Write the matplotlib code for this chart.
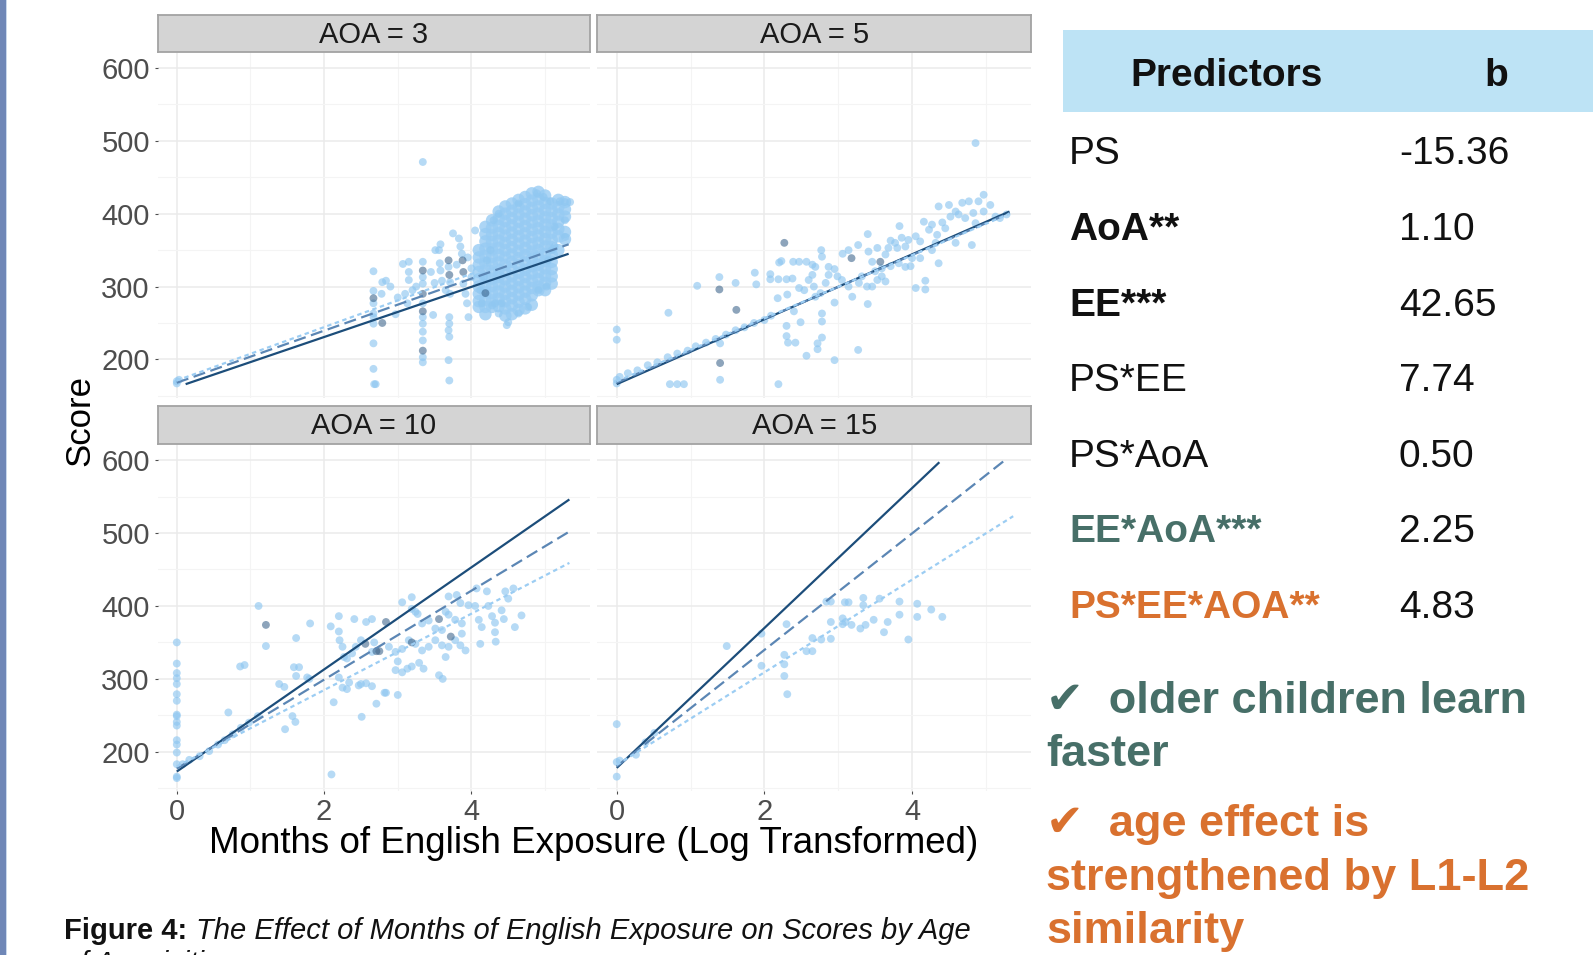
import matplotlib
matplotlib.use("Agg")
import matplotlib.pyplot as plt
from matplotlib.patches import Rectangle
from matplotlib.ticker import FixedLocator

plt.rcParams['font.family'] = ['Liberation Sans', 'DejaVu Sans']

# ---------------- data ----------------
panel_titles = ["AOA = 3", "AOA = 5", "AOA = 10", "AOA = 15"]

# AOA = 3 -- scattered points (light)
aoa3_x = [0, 0, 0.03,
          2.67, 2.67, 2.67, 2.67, 2.67, 2.67, 2.67, 2.67, 2.68, 2.70,
          2.79, 2.84, 2.78, 2.97,
          3.07, 3.15, 3.15, 3.15, 3.20, 3.10, 3.13,
          3.34, 3.34, 3.34, 3.34, 3.34, 3.34, 3.34, 3.34, 3.34, 3.34,
          3.48, 3.34,
          3.56, 3.57, 3.58, 3.60, 3.65, 3.69, 3.71, 3.71, 3.70, 3.70, 3.69, 3.70, 3.69, 3.70, 3.51, 3.58, 3.75,
          3.83, 3.85, 3.87, 3.89, 3.92, 3.94, 3.96,
          4.00, 4.05, 4.30, 4.37, 4.12, 4.14, 4.17, 4.21, 4.26,
          4.37, 4.48, 4.50, 4.64, 4.77, 4.91, 5.02, 4.64, 4.89, 4.98, 5.07, 5.20, 5.27, 5.34,
          5.27, 5.27, 5.13, 5.09, 5.04, 5.13, 4.28, 4.32, 4.41,
          2.90, 3.00, 3.25, 3.45, 3.50, 3.80, 3.95, 4.00]
aoa3_y = [167, 170, 172,
          321, 294, 277, 263, 258, 249, 222, 187, 166, 166,
          306, 308, 290, 262,
          331, 334, 320, 309, 295, 290, 277,
          334, 313, 304, 277, 258, 249, 238, 226, 203, 196,
          261, 471,
          350, 332, 322, 308, 295, 327, 306, 290, 258, 249, 240, 231, 199, 171, 350, 358, 373,
          366, 355, 345, 304, 290, 277, 258,
          313, 377, 391, 400, 295, 277, 313, 336, 350,
          263, 247, 251, 263, 272, 295, 300, 414, 428, 423, 417, 417, 416, 416,
          391, 368, 355, 350, 336, 382, 274, 277, 277,
          300, 285, 300, 320, 305, 330, 340, 325]

# AOA = 3 -- dense cloud of points (light)
aoa3_cloud_x = [4.10] * 9 + [4.19] * 13 + [4.28] * 13 + [4.37] * 14 + [4.46] * 16 + [4.55] * 16 + \
               [4.64] * 16 + [4.73] * 16 + [4.82] * 16 + [4.91] * 15 + [5.00] * 14 + [5.09] * 12 + \
               [5.18] * 7 + [5.27] * 5
aoa3_cloud_y = [350, 340, 330, 320, 310, 300, 290, 280, 272,
                382, 372, 362, 352, 342, 332, 322, 312, 302, 292, 282, 272, 262,
                391, 381, 371, 361, 351, 341, 331, 321, 311, 301, 291, 281, 272,
                403, 393, 383, 373, 363, 353, 343, 333, 323, 313, 303, 293, 283, 273,
                410, 400, 390, 380, 370, 360, 350, 340, 330, 320, 310, 300, 290, 280, 270, 260,
                414, 404, 394, 384, 374, 364, 354, 344, 334, 324, 314, 304, 294, 284, 274, 262,
                419, 409, 399, 389, 379, 369, 359, 349, 339, 329, 319, 309, 299, 289, 279, 268,
                423, 413, 403, 393, 383, 373, 363, 353, 343, 333, 323, 313, 303, 293, 283, 270,
                428, 418, 408, 398, 388, 378, 368, 358, 348, 338, 328, 318, 308, 298, 288, 275,
                430, 420, 410, 400, 390, 380, 370, 360, 350, 340, 330, 320, 310, 300, 295,
                425, 415, 405, 395, 385, 375, 365, 355, 345, 335, 325, 315, 305, 295,
                414, 404, 394, 384, 374, 364, 354, 344, 334, 324, 314, 304,
                419, 409, 399, 389, 379, 369, 350,
                416, 406, 396, 375, 365]

aoa3_dark_x = [2.67, 2.79, 3.34, 3.34, 3.34, 3.34, 3.70, 3.69, 3.88, 3.89, 4.19]
aoa3_dark_y = [284, 250, 322, 290, 266, 212, 316, 336, 336, 320, 291]

# AOA = 5
aoa5_x = [0, 0, 0, 0, 0.04,
          0.15, 0.28, 0.42, 0.55, 0.69, 0.82, 0.96, 1.07, 1.21, 1.34, 1.48, 1.61, 1.73, 1.86, 2.00, 2.09,
          0.70, 0.72, 0.82, 0.91, 1.09, 1.39, 1.40, 1.40, 1.61, 1.87, 1.89, 2.08, 2.08, 2.19, 2.20,
          2.23, 2.31, 2.18, 2.19, 2.30, 2.30, 2.32, 2.42, 2.40, 2.49, 2.57, 2.72, 2.72, 2.78, 2.78,
          2.78, 2.95, 2.95, 3.27, 3.40,
          2.30, 2.38, 2.47, 2.54, 2.60, 2.65, 2.67, 2.69, 2.76, 2.83, 2.87, 2.99, 3.05, 3.14, 3.19,
          3.28, 3.32, 3.39, 3.46, 3.53, 3.59, 3.64,
          2.39, 2.47, 2.57, 2.65, 2.69, 2.77, 2.78, 2.87, 2.95,
          3.06, 3.14, 3.27, 3.40, 3.41, 3.53, 3.64, 3.71, 3.77, 3.83, 3.86, 3.91, 3.95, 3.98,
          4.05, 4.18, 4.18, 4.11, 4.16, 4.23, 4.27, 4.34, 4.36, 4.41, 4.45, 4.50, 4.52, 4.59,
          4.63, 4.68, 4.72, 4.77, 4.83, 4.86, 4.90, 4.97, 4.97, 5.06, 5.13, 5.19, 5.28, 4.81,
          4.59, 4.36, 4.27, 4.00, 3.91, 3.82, 3.71, 3.59, 3.50, 3.46, 3.80, 3.68, 4.05, 4.11, 4.32,
          4.86]
aoa5_y = [241, 227, 172, 167, 176,
          181, 185, 192, 196, 203, 208, 212, 218, 223, 228, 234, 240, 244, 250, 254, 260,
          264, 166, 166, 166, 301, 313, 222, 172, 305, 319, 303, 317, 310, 310, 333,
          335, 289, 284, 166, 246, 232, 223, 223, 266, 251, 205, 222, 214, 230, 252,
          263, 199, 278, 213, 276,
          310, 311, 298, 295, 309, 316, 300, 286, 291, 305, 316, 314, 309, 300, 286,
          305, 314, 300, 300, 309, 314, 307,
          334, 334, 334, 330, 327, 350, 341, 327, 324,
          345, 350, 357, 372, 348, 353, 344, 363, 360, 383, 367, 355, 364, 328,
          298, 296, 308, 339, 389, 378, 385, 371, 410, 388, 380, 412, 396, 403,
          399, 415, 394, 417, 401, 387, 417, 426, 403, 412, 396, 394, 399, 357,
          360, 332, 350, 339, 327, 332, 328, 325, 321, 334, 353, 353, 369, 362, 360,
          497]
aoa5_dark_x = [2.27, 3.18, 3.57, 1.40, 1.39, 1.62]
aoa5_dark_y = [360, 339, 334, 195, 296, 268]

# AOA = 10
aoa10_x = [0, 0, 0, 0, 0, 0, 0, 0, 0, 0, 0, 0, 0, 0, 0, 0, 0,
           0.08, 0.17, 0.31, 0.44, 0.56, 0.65, 0.76, 0.87, 0.98, 1.10,
           1.11, 1.21, 0.86, 0.92, 0.70, 1.47, 1.59, 1.66, 1.62, 1.62, 1.39, 1.46, 1.57, 1.61,
           1.77, 1.80, 1.81, 2.09, 2.13, 2.10, 2.20,
           2.20, 2.21, 2.25, 2.27, 2.31, 2.38, 2.43, 2.50, 2.65, 2.68,
           2.20, 2.25, 2.31, 2.34, 2.47, 2.50, 2.57, 2.65,
           2.41, 2.57, 2.65, 3.06, 3.19, 3.19, 3.27, 3.24,
           3.00, 2.51, 2.71, 2.82, 2.84, 3.00,
           2.97, 3.06, 3.13, 3.19, 3.29, 3.35,
           2.88, 2.97, 3.06, 3.15, 3.24, 3.33, 3.42, 3.51, 3.60, 3.65, 3.69, 3.78, 3.87, 3.92,
           3.33, 3.42, 3.51, 3.60, 3.65, 3.69, 3.78, 3.87, 3.96, 4.05, 4.10, 4.14, 4.23, 4.28,
           4.32, 4.32, 4.41, 4.44, 4.46, 4.50, 4.57, 4.59, 4.68, 4.07, 4.21, 3.85, 3.80, 3.69,
           3.56, 3.61, 4.12, 4.33, 3.85]
aoa10_y = [350, 321, 308, 301, 293, 279, 270, 251, 249, 241, 236, 216, 210, 199, 183, 166, 164,
           183, 189, 194, 201, 210, 216, 224, 233, 240, 249,
           400, 345, 317, 319, 254, 231, 316, 316, 356, 304, 293, 289, 249, 241,
           302, 300, 376, 372, 268, 169, 386,
           365, 353, 344, 330, 328, 335, 344, 353, 337, 350,
           302, 288, 286, 295, 291, 293, 294, 290,
           382, 378, 382, 405, 412, 396, 389, 392,
           324, 248, 266, 281, 281, 278,
           312, 309, 314, 317, 322, 314,
           344, 337, 341, 353, 348, 339, 344, 353, 346, 330, 344, 353, 362, 339,
           376, 380, 369, 367, 392, 388, 381, 376, 401, 400, 381, 371, 400, 386,
           377, 364, 394, 382, 420, 410, 424, 371, 387, 424, 420, 404, 415, 413,
           305, 300, 348, 351, 346]
aoa10_dark_x = [1.21, 2.56, 2.71, 2.75, 3.19, 3.56, 3.72, 2.84]
aoa10_dark_y = [374, 348, 338, 338, 350, 382, 358, 378]

# AOA = 15
aoa15_x = [0, 0, 0, 0.04, 0.26, 0.39, 0.51,
           1.49, 1.96, 1.96, 2.30, 2.27, 2.27, 2.27, 2.31, 2.57, 2.65, 2.65, 2.77, 2.90, 2.90,
           2.84, 2.90, 3.06, 3.06, 3.10, 3.18, 3.09, 3.14, 3.30, 3.37, 3.34, 3.34, 3.48, 3.56,
           3.62, 3.67, 3.83, 3.83, 3.95, 4.07, 4.07, 4.26, 4.41]
aoa15_y = [238, 186, 166, 188, 196, 213, 226,
           345, 362, 318, 375, 333, 320, 304, 279, 338, 338, 356, 354, 355, 378,
           406, 406, 383, 375, 378, 374, 405, 405, 369, 374, 411, 401, 381, 410,
           364, 378, 406, 388, 354, 403, 385, 395, 385]

# fitted lines per panel: [solid, dashed, dotted] as (x_start, x_end, y_start, y_end)
fit_lines = {
    "AOA = 3":  [(0.12, 5.32, 166, 345), (0.0, 5.32, 168, 358), (0.0, 5.32, 171, 366)],
    "AOA = 5":  [(0.0, 5.32, 166, 403), (0.0, 5.32, 168, 401), (0.0, 5.32, 170, 400)],
    "AOA = 10": [(0.0, 5.33, 173, 546), (0.0, 5.33, 177, 502), (0.0, 5.33, 180, 459)],
    "AOA = 15": [(0.0, 4.37, 178, 597), (0.0, 5.26, 180, 600), (0.0, 5.37, 182, 523)],
}

x_major = [0, 2, 4]
x_minor = [1, 3, 5]
y_major = [200, 300, 400, 500, 600]
y_minor = [150, 250, 350, 450, 550]

predictors = ["PS", "AoA**", "EE***", "PS*EE", "PS*AoA", "EE*AoA***", "PS*EE*AOA**"]
b_values = ["-15.36", "1.10", "42.65", "7.74", "0.50", "2.25", "4.83"]
pred_weight = ["normal", "bold", "bold", "normal", "normal", "bold", "bold"]
pred_color = ["#111111", "#111111", "#111111", "#111111", "#111111", "#476f68", "#d9712f"]

# ---------------- figure ----------------
W, H = 1593, 955
fig = plt.figure(figsize=(W / 100, H / 100), dpi=100)
fig.patch.set_facecolor("white")


def fx(px):
    return px / W


def fy(py):
    return 1 - py / H


col_x = [(157.5, 590.3), (597.4, 1031.2)]
row_y = [(52.0, 398.0), (444.0, 790.5)]
strip_y = [(15.2, 51.8), (406.4, 444.0)]

light_col = "#8fc7f1"
dark_col = "#2f5a83"
line_cols = ["#1c4d7a", "#5b86b4", "#9ccdf3"]
line_styles = ["-", (0, (5.5, 2.5)), (0, (2.0, 1.6))]

panel_data = {
    "AOA = 3": (aoa3_x, aoa3_y, aoa3_dark_x, aoa3_dark_y),
    "AOA = 5": (aoa5_x, aoa5_y, aoa5_dark_x, aoa5_dark_y),
    "AOA = 10": (aoa10_x, aoa10_y, aoa10_dark_x, aoa10_dark_y),
    "AOA = 15": (aoa15_x, aoa15_y, [], []),
}

for i, title in enumerate(panel_titles):
    r, c = divmod(i, 2)
    x0, x1 = col_x[c]
    y0, y1 = row_y[r]
    ax = fig.add_axes([fx(x0), fy(y1), fx(x1 - x0), (y1 - y0) / H])
    ax.set_facecolor("white")
    ax.set_xlim(-0.262, 5.614)
    ax.set_ylim(147, 622)
    ax.xaxis.set_major_locator(FixedLocator(x_major))
    ax.xaxis.set_minor_locator(FixedLocator(x_minor))
    ax.yaxis.set_major_locator(FixedLocator(y_major))
    ax.yaxis.set_minor_locator(FixedLocator(y_minor))
    ax.grid(which="major", color="#ebebeb", lw=1.1, zorder=0)
    ax.grid(which="minor", color="#f4f4f4", lw=0.8, zorder=0)
    ax.set_axisbelow(True)
    for s in ax.spines.values():
        s.set_visible(False)
    ax.tick_params(which="minor", length=0)
    ax.tick_params(which="major", length=2.5, width=0.8, color="#4d4d4d",
                   labelsize=21, labelcolor="#4d4d4d", pad=3)
    if c != 0:
        ax.tick_params(axis="y", which="major", length=0, labelleft=False)
    if r != 1:
        ax.tick_params(axis="x", which="major", length=0, labelbottom=False)

    lx, ly, dx, dy = panel_data[title]
    if title == "AOA = 3":
        ax.scatter(aoa3_cloud_x, aoa3_cloud_y, s=80, color="#97cbf3", alpha=0.8,
                   edgecolors="none", zorder=2)
    ax.scatter(lx, ly, s=32, color=light_col, alpha=0.65, edgecolors="none", zorder=2)
    if dx:
        ax.scatter(dx, dy, s=32, color=dark_col, alpha=0.55, edgecolors="none", zorder=2)
    for (xa, xb, ya, yb), col, ls in zip(fit_lines[title], line_cols, line_styles):
        ax.plot([xa, xb], [ya, yb], color=col, lw=1.6, ls=ls, zorder=3,
                solid_capstyle="butt", dash_capstyle="butt")

    # facet strip
    sy0, sy1 = strip_y[r]
    sax = fig.add_axes([fx(x0), fy(sy1), fx(x1 - x0), (sy1 - sy0) / H])
    sax.set_facecolor("#d4d4d4")
    sax.set_xticks([])
    sax.set_yticks([])
    for s in sax.spines.values():
        s.set_color("#a3a3a3")
        s.set_linewidth(1.3)
    sax.text(0.5, 0.47, title, transform=sax.transAxes, ha="center", va="center",
             fontsize=21, color="#1a1a1a")

# axis titles
fig.text(fx(80), fy(421), "Score", rotation=90, ha="center", va="center",
         fontsize=25, color="black")
fig.text(fx(594), fy(843), "Months of English Exposure (Log Transformed)",
         ha="center", va="center", fontsize=26.5, color="black")

# left decorative bar
fig.patches.append(Rectangle((0, 0), fx(5.5), 1, transform=fig.transFigure,
                             facecolor="#6f87b7", edgecolor="none"))
fig.patches.append(Rectangle((fx(5.5), 0), fx(1.5), 1, transform=fig.transFigure,
                             facecolor="#c9d8ec", edgecolor="none"))

# table
fig.patches.append(Rectangle((fx(1063), fy(112)), fx(W - 1063), (112 - 30.5) / H,
                             transform=fig.transFigure, facecolor="#bde3f5", edgecolor="none"))
fig.text(fx(1227), fy(86), "Predictors", ha="center", va="baseline",
         fontsize=28, fontweight="bold", color="#111111")
fig.text(fx(1496), fy(86), "b", ha="center", va="baseline",
         fontsize=28, fontweight="bold", color="#111111")
row_base = [164, 240, 316, 391, 467, 542, 618]
for name, val, wt, col, yb in zip(predictors, b_values, pred_weight, pred_color, row_base):
    fig.text(fx(1069), fy(yb), name, ha="left", va="baseline", fontsize=28,
             fontweight=wt, color=col)
    fig.text(fx(1399), fy(yb), val, ha="left", va="baseline", fontsize=28,
             color="#111111")

# bullet notes
teal = "#476f68"
orange = "#d9712f"
fam = ["Liberation Sans", "DejaVu Sans"]
notes = [("\u2714  older children learn", 713, teal), ("faster", 766, teal),
         ("\u2714  age effect is", 836, orange), ("strengthened by L1-L2", 890, orange),
         ("similarity", 943, orange)]
for txt, yb, col in notes:
    fig.text(fx(1046), fy(yb), txt, ha="left", va="baseline", fontsize=32.5,
             fontweight="bold", color=col, family=fam)

# caption
renderer = fig.canvas.get_renderer()
cap1 = fig.text(fx(64), fy(939), "Figure 4:", ha="left", va="baseline", fontsize=21,
                fontweight="bold", color="#111111")
bb = cap1.get_window_extent(renderer)
fig.text(bb.x1 / W + fx(9), fy(939), "The Effect of Months of English Exposure on Scores by Age",
         ha="left", va="baseline", fontsize=21, style="italic", color="#111111")
fig.text(fx(64), fy(972), "of Acquisition", ha="left", va="baseline", fontsize=21,
         style="italic", color="#111111")

fig.savefig("out.png", dpi=100, facecolor="white")
